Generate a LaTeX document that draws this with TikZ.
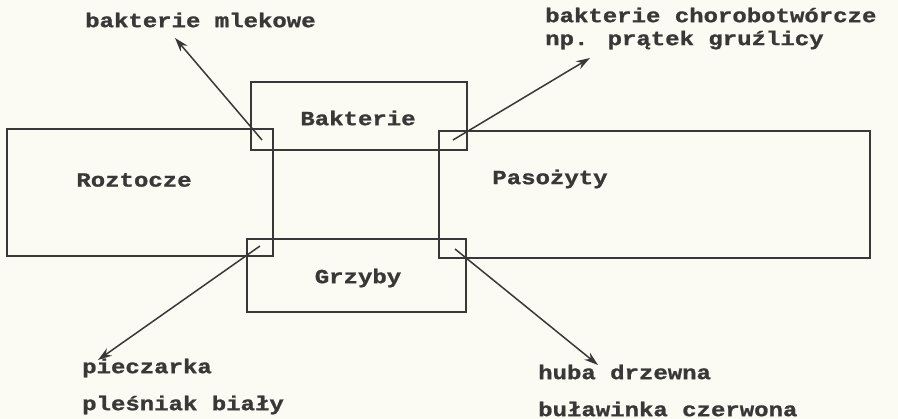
\documentclass[tikz,border=0pt]{standalone}
\usepackage{fontspec}
\usetikzlibrary{arrows.meta}
\newfontfamily\typewriter[FakeStretch=1.2,FakeBold=1.2]{Liberation Mono}
\definecolor{paper}{HTML}{FBFBF3}
\definecolor{ink}{HTML}{383838}
\begin{document}
\begin{tikzpicture}[x=1pt,y=-1pt,
  box/.style={draw=ink,line width=2pt},
  label/.style={text=ink,font=\typewriter\bfseries\fontsize{20}{24}\selectfont,inner sep=0pt},
  note/.style={label,anchor=west},
  pointer/.style={draw=ink,line width=1.5pt,-{Stealth[length=14pt,width=9pt]}}]
  \fill[paper] (0,0) rectangle (898,419);
  \useasboundingbox (0,0) rectangle (898,419);

  % four overlapping groups
  \draw[box] (7,129) rectangle (273,256);
  \draw[box] (251,82) rectangle (467,150);
  \draw[box] (439,131) rectangle (870,258);
  \draw[box] (247,239) rectangle (466,312);

  \node[label] (roz) at (134,180) {Roztocze};
  \node[label] (bak) at (358,118) {Bakterie};
  \node[label] (pas) at (550,179) {Pasożyty};
  \node[label] (grz) at (358,278) {Grzyby};

  % examples
  \node[note] (mlek) at (85,20) {bakterie mlekowe};
  \node[note] (chor) at (545,15) {bakterie chorobotwórcze};
  \node[note] (grue) at (545,40) {np. prątek gruźlicy};
  \node[note] (piec) at (82,368) {pieczarka};
  \node[note] (ples) at (82,405) {pleśniak biały};
  \node[note] (huba) at (538,372) {huba drzewna};
  \node[note] (bula) at (538,409) {buławinka czerwona};

  % arrows from the overlap corners
  \coordinate (rb) at (262,140);
  \coordinate (bp) at (453,140);
  \coordinate (rg) at (260,246);
  \coordinate (pg) at (455,249);
  \coordinate (rbtip) at (175,38);
  \coordinate (bptip) at (590,58);
  \coordinate (rgtip) at (98,360);
  \coordinate (pgtip) at (598,365);
  \draw[pointer] (rb) -- (rbtip);
  \draw[pointer] (bp) -- (bptip);
  \draw[pointer] (rg) -- (rgtip);
  \draw[pointer] (pg) -- (pgtip);
\end{tikzpicture}
\end{document}
